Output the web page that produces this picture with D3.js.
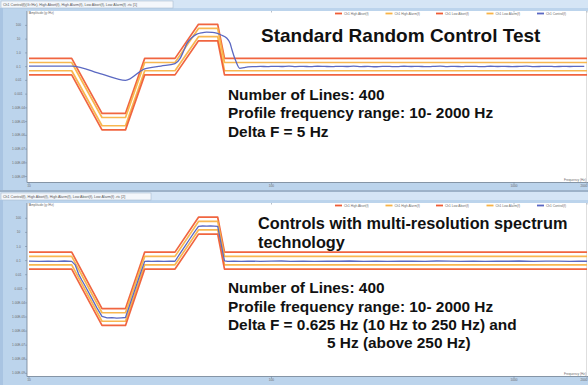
<!DOCTYPE html>
<html><head><meta charset="utf-8">
<script src="https://cdn.jsdelivr.net/npm/d3@7"></script>
<style>html,body{margin:0;padding:0;background:#fff;}svg{display:block;}</style>
</head><body>
<svg id="c" width="588" height="385"></svg>
<script>
// Reference test profile (Hz, g²/Hz)
const profileFreq  = [10, 15, 20, 25, 30, 40, 50, 60, 64, 2000];
const profileLevel = [0.1, 0.1, 1e-5, 1e-5, 0.1, 0.1, 30, 30, 0.1, 0.1];
// Tolerance bands around the profile, dB
const alarmDb = 3;
const abortDb = 6;

// Control spectrum, single-resolution run (Delta F = 5 Hz)
const ctrlAFreq = [10, 12, 15, 20, 25, 30, 35, 40, 42, 43.5, 44.7, 47, 49.2, 51.5, 54, 57, 59.4, 62, 65.3, 67.5, 68.7, 71, 74, 77, 80, 85,
  90, 96, 103, 110, 118, 126, 135, 145, 155, 166, 178, 190, 204, 218, 234, 250, 268, 287, 307, 329, 352, 377, 404, 432, 463, 496,
  531, 569, 609, 652, 698, 748, 801, 857, 918, 983, 1053, 1127, 1207, 1293, 1384, 1482, 1587, 1700, 1820, 1949, 2000];
const ctrlALevel = [0.11, 0.11, 0.11, 0.028, 0.01, 0.07, 0.11, 0.165, 0.4, 1.5, 4.5, 13, 23, 29, 32, 31, 27, 20, 12, 5, 1.7, 0.3, 0.075, 0.085, 0.095, 0.1,
  0.104, 0.1, 0.106, 0.102, 0.108, 0.101, 0.105, 0.099, 0.107, 0.103, 0.1, 0.106, 0.102, 0.109, 0.101, 0.104, 0.098, 0.106, 0.103, 0.1, 0.107, 0.102, 0.105, 0.099,
  0.104, 0.108, 0.101, 0.105, 0.1, 0.106, 0.103, 0.099, 0.107, 0.102, 0.105, 0.1, 0.104, 0.108, 0.101, 0.103, 0.106, 0.1, 0.105, 0.102, 0.104, 0.103];

// Control spectrum, multi-resolution run
const ctrlBFreq = [10, 11, 12, 13, 14, 15, 15.5, 16, 16.5, 17, 18, 19, 20, 21, 22, 23, 24, 25, 26, 27, 28, 29, 30, 31, 32, 34, 36, 38, 40,
  42, 44, 46, 48, 50, 52, 54, 56, 58, 60, 61, 62, 63, 64, 66, 70, 75, 80, 90, 100, 110, 120, 135, 150, 170, 190, 210, 240, 270, 300,
  340, 380, 430, 480, 540, 600, 680, 760, 850, 950, 1050, 1200, 1350, 1500, 1700, 1850, 2000];
const ctrlBLevel = [0.092, 0.088, 0.093, 0.089, 0.094, 0.088, 0.05, 0.0115, 0.0042, 0.0017, 0.00028, 4.8e-5, 1.1e-5, 8.6e-6, 8.9e-6, 8.4e-6, 8.8e-6, 9.2e-6, 6.8e-5, 4.6e-4, 2.9e-3, 0.017, 0.088, 0.091, 0.087, 0.092, 0.089, 0.093, 0.09,
  0.33, 1.08, 3.4, 10, 27, 28.5, 27.5, 28.8, 27.8, 27, 6.5, 1.55, 0.37, 0.094, 0.088, 0.092, 0.089, 0.093, 0.088, 0.091, 0.094, 0.089, 0.092, 0.088, 0.093, 0.09, 0.094, 0.089, 0.092, 0.087,
  0.093, 0.09, 0.088, 0.094, 0.091, 0.089, 0.093, 0.088, 0.092, 0.09, 0.094, 0.089, 0.091, 0.093, 0.088, 0.092, 0.09];

const yTickValues = [100, 10, 1, 0.1, 0.01, 0.001, 1e-4, 1e-5, 1e-6, 1e-7, 1e-8, 1e-9];
const yTickLabels = ["100", "10", "1.0", "0.1", "0.01", "0.001", "1.00E-04", "1.00E-05", "1.00E-06", "1.00E-07", "1.00E-08", "1.00E-09"];
const xTickValues = [10, 100, 1000, 2000];
const xTickLabels = ["10", "100", "1000", "2000"];
const legendNames = ["Ch1 High Abort(f)", "Ch1 High Alarm(f)", "Ch1 Low Abort(f)", "Ch1 Low Alarm(f)", "Ch1 Control(f)"];

const COL = {abort: "#ef5d36", alarm: "#f8b347", ctrl: "#5a68c2", frame: "#bcd4ec", bar: "#d5e5f5", axis: "#6f7f92", tiny: "#6a6a6a"};
const legendColors = [COL.abort, COL.alarm, COL.abort, COL.alarm, COL.ctrl];
const FONT = "'Liberation Sans', Arial, sans-serif";

const svg = d3.select("#c");
const x = d3.scaleLog().domain([10, 2000]).range([29, 587]);

function drawPanel(p) {
  const g = svg.append("g");
  // window frame and tab strip
  g.append("rect").attr("x", 0).attr("y", p.top).attr("width", 588).attr("height", p.bottom - p.top).attr("fill", COL.frame);
  g.append("rect").attr("x", 0).attr("y", p.top).attr("width", 588).attr("height", 8).attr("fill", COL.bar);
  g.append("rect").attr("x", 1).attr("y", p.top + 1).attr("width", p.tabW).attr("height", 7)
    .attr("fill", "#f4f7fb").attr("stroke", "#9fb3c8").attr("stroke-width", 0.5);
  g.append("text").attr("x", 3).attr("y", p.top + 5.6).attr("font-family", FONT).attr("font-size", 3.6)
    .attr("fill", "#555").text(p.tabText);
  g.append("rect").attr("x", 0).attr("y", p.top + 8).attr("width", 3).attr("height", p.bottom - p.top - 8).attr("fill", "#a9c4e2");

  // plot area
  g.append("rect").attr("x", 27).attr("y", p.plotTop).attr("width", 561).attr("height", p.plotBottom - p.plotTop)
    .attr("fill", "#fff");
  g.append("line").attr("x1", 27).attr("x2", 27).attr("y1", p.plotTop).attr("y2", p.plotBottom).attr("stroke", COL.axis).attr("stroke-width", 0.8);
  g.append("line").attr("x1", 27).attr("x2", 588).attr("y1", p.plotBottom).attr("y2", p.plotBottom).attr("stroke", COL.axis).attr("stroke-width", 0.8);
  g.append("line").attr("x1", 586.5).attr("x2", 586.5).attr("y1", p.plotTop).attr("y2", p.plotBottom).attr("stroke", "#c8c8c8").attr("stroke-width", 0.6);

  const y = d3.scaleLog().domain([1e-9, 100]).range([p.y1e9, p.y100]);

  // y ticks and labels
  yTickValues.forEach((v, i) => {
    g.append("line").attr("x1", 25).attr("x2", 27).attr("y1", y(v)).attr("y2", y(v)).attr("stroke", COL.axis).attr("stroke-width", 0.5);
    g.append("text").attr("x", 18.5).attr("y", y(v) + 1).attr("text-anchor", "middle").attr("font-family", FONT)
      .attr("font-size", 3.2).attr("fill", COL.tiny).text(yTickLabels[i]);
  });
  // x ticks and labels
  xTickValues.forEach((v, i) => {
    g.append("line").attr("x1", x(v)).attr("x2", x(v)).attr("y1", p.plotBottom).attr("y2", p.plotBottom + 2).attr("stroke", COL.axis).attr("stroke-width", 0.5);
    g.append("line").attr("x1", x(v)).attr("x2", x(v)).attr("y1", p.plotTop).attr("y2", p.plotTop + 1.5).attr("stroke", COL.axis).attr("stroke-width", 0.5);
    g.append("text").attr("x", Math.min(x(v), 584)).attr("y", p.plotBottom + 4.2).attr("text-anchor", "middle").attr("font-family", FONT)
      .attr("font-size", 3.2).attr("fill", COL.tiny).text(xTickLabels[i]);
  });
  g.append("text").attr("x", 586).attr("y", p.plotBottom - 1.5).attr("text-anchor", "end").attr("font-family", FONT)
    .attr("font-size", 3.2).attr("fill", COL.tiny).text("Frequency (Hz)");
  g.append("text").attr("x", 29).attr("y", p.plotTop + 2.6).attr("font-family", FONT)
    .attr("font-size", 3.2).attr("fill", COL.tiny).text("Amplitude (g²/Hz)");

  // legend strip
  legendNames.forEach((n, i) => {
    const lx = 335 + i * 50.5;
    g.append("rect").attr("x", lx).attr("y", p.plotTop + 1.6).attr("width", 7).attr("height", 1.8).attr("fill", legendColors[i]);
    g.append("text").attr("x", lx + 9).attr("y", p.plotTop + 3.6).attr("font-family", FONT)
      .attr("font-size", 3.2).attr("fill", COL.tiny).text(n);
  });

  // profile tolerance lines
  const profile = profileFreq.map((f, i) => ({f, v: profileLevel[i]}));
  const line = d3.line().x(d => x(d.f)).y(d => y(d.v));
  const band = (db) => profile.map(d => ({f: d.f, v: d.v * Math.pow(10, db / 10)}));
  const plot = g.append("g");
  [[abortDb, COL.abort], [alarmDb, COL.alarm], [-alarmDb, COL.alarm], [-abortDb, COL.abort]].forEach(([db, c]) => {
    plot.append("path").datum(band(db)).attr("d", line).attr("fill", "none").attr("stroke", c)
      .attr("stroke-width", 1.7).attr("stroke-linejoin", "round").attr("opacity", 0.95);
  });
  // control spectrum
  const ctrl = p.ctrlFreq.map((f, i) => ({f, v: p.ctrlLevel[i]}));
  plot.append("path").datum(ctrl).attr("d", line.curve(p.curve)).attr("fill", "none")
    .attr("stroke", COL.ctrl).attr("stroke-width", 1.3).attr("stroke-linejoin", "round");

  // annotation text
  p.notes.forEach(n => {
    g.append("text").attr("x", n.x).attr("y", n.y).attr("font-family", FONT).attr("font-weight", "bold")
      .attr("font-size", n.size).attr("fill", "#111").text(n.t);
  });
}

drawPanel({
  top: 0, bottom: 190, plotTop: 11, plotBottom: 182.5, y100: 25.4, y1e9: 176.6, tabW: 172,
  tabText: "Ch1 Control(f)(G²/Hz), High Abort(f), High Alarm(f), Low Abort(f), Low Alarm(f) .rtc [1]",
  ctrlFreq: ctrlAFreq, ctrlLevel: ctrlALevel, curve: d3.curveMonotoneX,
  notes: [
    {t: "Standard Random Control Test", x: 261, y: 42, size: 19},
    {t: "Number of Lines: 400", x: 228, y: 100, size: 15.4},
    {t: "Profile frequency range: 10- 2000 Hz", x: 228, y: 118.4, size: 15.4},
    {t: "Delta F = 5 Hz", x: 228, y: 136.8, size: 15.4}
  ]
});

// divider between the two windows
svg.append("rect").attr("x", 0).attr("y", 190).attr("width", 588).attr("height", 2.5).attr("fill", "#9db2c8");

drawPanel({
  top: 192, bottom: 385, plotTop: 203, plotBottom: 376.5, y100: 218.3, y1e9: 373.4, tabW: 150,
  tabText: "Ch1 Control(f), High Abort(f), High Alarm(f), Low Abort(f), Low Alarm(f) .rtc [2]",
  ctrlFreq: ctrlBFreq, ctrlLevel: ctrlBLevel, curve: d3.curveLinear,
  notes: [
    {t: "Controls with multi-resolution spectrum", x: 258, y: 229, size: 16.3},
    {t: "technology", x: 258, y: 247.5, size: 16.3},
    {t: "Number of Lines: 400", x: 228, y: 293.3, size: 15.4},
    {t: "Profile frequency range: 10- 2000 Hz", x: 228, y: 311.7, size: 15.4},
    {t: "Delta F = 0.625 Hz (10 Hz to 250 Hz) and", x: 228, y: 330, size: 15.4},
    {t: "5 Hz (above 250 Hz)", x: 327, y: 347.5, size: 15.4}
  ]
});
</script>
</body></html>
